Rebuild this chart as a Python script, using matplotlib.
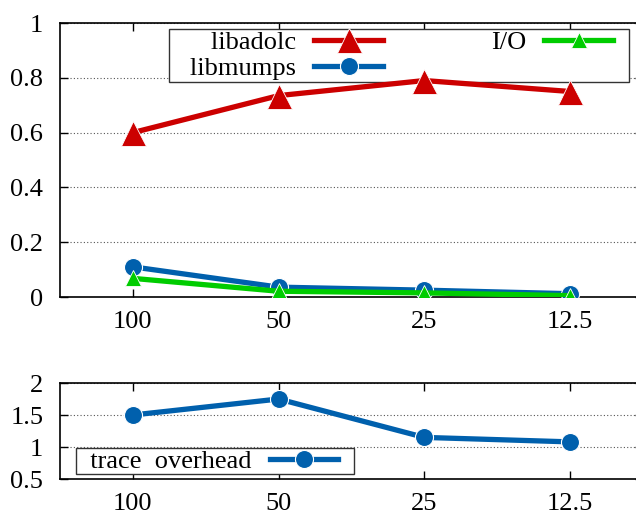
import matplotlib
matplotlib.use("Agg")
import matplotlib.pyplot as plt
from matplotlib.legend_handler import HandlerLine2D
from matplotlib.lines import Line2D

plt.rcParams['font.family'] = ['Liberation Serif', 'DejaVu Serif']
plt.rcParams['font.size'] = 19

x_labels = ['100', '50', '25', '12.5']
libadolc = [0.60, 0.735, 0.79, 0.75]
libmumps = [0.11, 0.036, 0.025, 0.012]
io_time = [0.068, 0.021, 0.015, 0.005]
trace_overhead = [1.50, 1.75, 1.15, 1.08]

RED = '#CC0000'
BLUE = '#0060AD'
GREEN = '#00CC00'

W, H = 636, 515
fig = plt.figure(figsize=(W / 100, H / 100), dpi=100)

# axes placed in pixel coords; right edge runs past the figure like the original crop
left, right = 60, 643
ax1 = fig.add_axes([left / W, (H - 297) / H, (right - left) / W, (297 - 23) / H])
ax2 = fig.add_axes([left / W, (H - 479) / H, (right - left) / W, (479 - 383) / H])

xs = range(len(x_labels))


def style_axes(ax, yticks):
    ax.set_xlim(-0.5, 3.5)
    ax.set_xticks(list(xs))
    ax.set_xticklabels(x_labels)
    ax.set_yticks(yticks)
    ax.set_yticklabels([f'{t:g}' for t in yticks])
    ax.set_ylim(yticks[0], yticks[-1])
    ax.tick_params(axis='x', direction='in', length=6, width=1, top=True, pad=10)
    ax.tick_params(axis='y', direction='in', length=6, width=1, right=True, pad=12)
    ax.grid(axis='y', linestyle=(0, (1, 2)), color='#555555', linewidth=0.8)
    for s in ax.spines.values():
        s.set_linewidth(1.2)


class KeySample(HandlerLine2D):
    """Line sample that leaves some empty room on its right, like gnuplot's key."""
    gap = 0.55

    def get_xdata(self, legend, xdescent, ydescent, width, height, fontsize):
        return super().get_xdata(legend, xdescent, ydescent,
                                 width - self.gap * fontsize, height, fontsize)


style_axes(ax1, [0, 0.2, 0.4, 0.6, 0.8, 1.0])
style_axes(ax2, [0.5, 1.0, 1.5, 2.0])

ax1.plot(xs, libadolc, color=RED, lw=3.8, marker='^', ms=18,
         mec='white', mew=0.6, label='   libadolc', zorder=3)
ax1.plot(xs, libmumps, color=BLUE, lw=3.8, marker='o', ms=13,
         mec='white', mew=0.8, label='   libmumps', zorder=3)
ax1.plot(xs, io_time, color=GREEN, lw=3.8, marker='^', ms=12,
         mec='white', mew=0.6, label='I/O', zorder=4)

key_opts = dict(markerfirst=False, handlelength=3.16, handletextpad=0.68,
                borderaxespad=0, borderpad=0.05, fancybox=False,
                framealpha=1, edgecolor='#333333',
                handler_map={Line2D: KeySample()})

leg1 = ax1.legend(ncol=2, loc='upper left', bbox_to_anchor=(0.187, 0.978),
                  columnspacing=3.54, labelspacing=0.12, **key_opts)
leg1.get_frame().set_linewidth(1.0)
leg1.set_zorder(2.5)
for t in leg1.get_texts():
    t.set_ha('right')

ax2.plot(xs, trace_overhead, color=BLUE, lw=3.8, marker='o', ms=13,
         mec='white', mew=0.8, label='  trace  overhead', zorder=3)
leg2 = ax2.legend(loc='lower left', bbox_to_anchor=(0.027, 0.05), **key_opts)
leg2.get_frame().set_linewidth(1.0)
leg2.set_zorder(2.5)

fig.savefig('out.png', dpi=100)
